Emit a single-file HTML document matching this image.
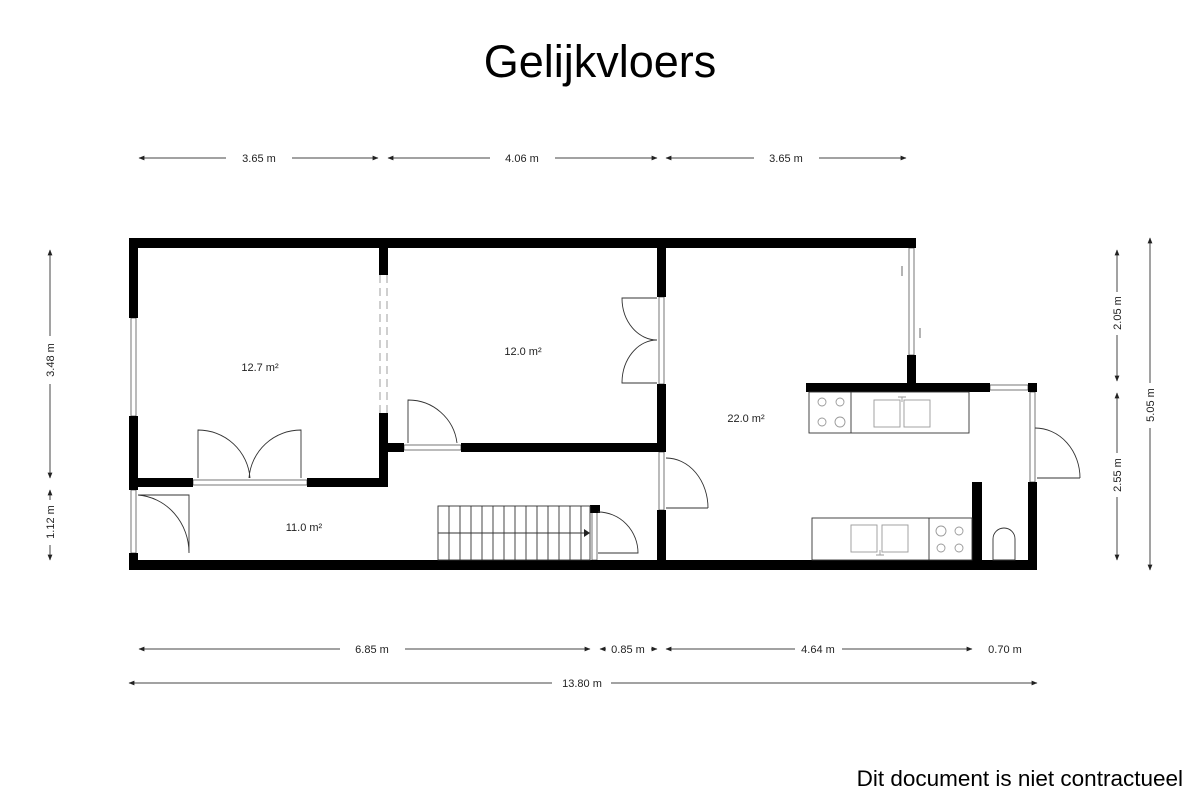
<!DOCTYPE html>
<html><head><meta charset="utf-8"><style>
html,body{margin:0;padding:0;background:#fff;}
svg{display:block;}
text{font-family:"Liberation Sans",Arial,sans-serif;fill:#222;}
</style></head><body>
<svg width="1200" height="801" viewBox="0 0 1200 801" xmlns="http://www.w3.org/2000/svg">
<defs>
<marker id="a" viewBox="0 0 10 10" refX="9" refY="5" markerWidth="6" markerHeight="6" orient="auto-start-reverse"><path d="M0,1 L10,5 L0,9 z" fill="#222"/></marker>
</defs>
<rect width="1200" height="801" fill="#fff"/>
<text x="600" y="77" font-size="45" text-anchor="middle" style="fill:#000">Gelijkvloers</text>
<text x="1183" y="786" font-size="22.5" text-anchor="end" style="fill:#000">Dit document is niet contractueel</text>

<g stroke="#444" stroke-width="1" fill="none">
<line x1="139" y1="158" x2="226" y2="158" marker-start="url(#a)"/><line x1="292" y1="158" x2="378" y2="158" marker-end="url(#a)"/>
<line x1="388" y1="158" x2="490" y2="158" marker-start="url(#a)"/><line x1="555" y1="158" x2="657" y2="158" marker-end="url(#a)"/>
<line x1="666" y1="158" x2="754" y2="158" marker-start="url(#a)"/><line x1="819" y1="158" x2="906" y2="158" marker-end="url(#a)"/>

<line x1="139" y1="649" x2="340" y2="649" marker-start="url(#a)"/><line x1="405" y1="649" x2="590" y2="649" marker-end="url(#a)"/>
<line x1="600" y1="649" x2="606" y2="649" marker-start="url(#a)"/><line x1="651" y1="649" x2="657" y2="649" marker-end="url(#a)"/>
<line x1="666" y1="649" x2="795" y2="649" marker-start="url(#a)"/><line x1="842" y1="649" x2="972" y2="649" marker-end="url(#a)"/>
<line x1="129" y1="683" x2="552" y2="683" marker-start="url(#a)"/><line x1="611" y1="683" x2="1037" y2="683" marker-end="url(#a)"/>

<line x1="50" y1="250" x2="50" y2="336" marker-start="url(#a)"/><line x1="50" y1="384" x2="50" y2="478" marker-end="url(#a)"/>
<line x1="50" y1="490" x2="50" y2="500" marker-start="url(#a)"/><line x1="50" y1="545" x2="50" y2="560" marker-end="url(#a)"/>
<line x1="1117" y1="250" x2="1117" y2="292" marker-start="url(#a)"/><line x1="1117" y1="335" x2="1117" y2="381" marker-end="url(#a)"/>
<line x1="1117" y1="393" x2="1117" y2="453" marker-start="url(#a)"/><line x1="1117" y1="497" x2="1117" y2="560" marker-end="url(#a)"/>
<line x1="1150" y1="238" x2="1150" y2="383" marker-start="url(#a)"/><line x1="1150" y1="428" x2="1150" y2="570" marker-end="url(#a)"/>
</g>
<g font-size="11" text-anchor="middle">
<text x="259" y="162">3.65 m</text><text x="522" y="162">4.06 m</text><text x="786" y="162">3.65 m</text>
<text x="372" y="653">6.85 m</text><text x="628" y="653">0.85 m</text><text x="818" y="653">4.64 m</text><text x="1005" y="653">0.70 m</text>
<text x="582" y="687">13.80 m</text>
<text transform="translate(54,360) rotate(-90)">3.48 m</text>
<text transform="translate(54,522) rotate(-90)">1.12 m</text>
<text transform="translate(1121,313) rotate(-90)">2.05 m</text>
<text transform="translate(1121,475) rotate(-90)">2.55 m</text>
<text transform="translate(1154,405) rotate(-90)">5.05 m</text>
</g>

<g font-size="11" text-anchor="middle">
<text x="260" y="371">12.7 m²</text>
<text x="523" y="355">12.0 m²</text>
<text x="746" y="422">22.0 m²</text>
<text x="304" y="531">11.0 m²</text>
</g>

<g fill="#fff" stroke="#555" stroke-width="0.8">
<rect x="131" y="318" width="5" height="98"/>
<rect x="131" y="490" width="5" height="63"/>
<rect x="193" y="480" width="114" height="5"/>
<rect x="404" y="445" width="57" height="5"/>
<rect x="659" y="297" width="5" height="87"/>
<rect x="659" y="452" width="5" height="58"/>
<rect x="592" y="512" width="5" height="48"/>
<rect x="909" y="248" width="5" height="107"/>
<rect x="990" y="385" width="38" height="5"/>
<rect x="1030" y="392" width="5" height="90"/>
</g>
<g stroke="#888" stroke-width="0.8" stroke-dasharray="8,5" fill="none">
<line x1="380" y1="275" x2="380" y2="413"/><line x1="387" y1="275" x2="387" y2="413"/>
</g>

<g fill="#000">
<rect x="129" y="238" width="787" height="10"/>
<rect x="129" y="560" width="908" height="10"/>
<rect x="129" y="238" width="9" height="80"/>
<rect x="129" y="416" width="9" height="74"/>
<rect x="129" y="553" width="9" height="17"/>
<rect x="129" y="478" width="64" height="9"/>
<rect x="307" y="478" width="81" height="9"/>
<rect x="379" y="238" width="9" height="37"/>
<rect x="379" y="413" width="9" height="74"/>
<rect x="379" y="443" width="25" height="9"/>
<rect x="461" y="443" width="205" height="9"/>
<rect x="657" y="238" width="9" height="59"/>
<rect x="657" y="384" width="9" height="68"/>
<rect x="657" y="510" width="9" height="60"/>
<rect x="907" y="238" width="9" height="10"/>
<rect x="907" y="355" width="9" height="37"/>
<rect x="806" y="383" width="184" height="9"/>
<rect x="1028" y="383" width="9" height="9"/>
<rect x="1028" y="482" width="9" height="88"/>
<rect x="972" y="482" width="10" height="88"/>
<rect x="590" y="505" width="10" height="8"/>
</g>

<g stroke="#333" stroke-width="0.9" fill="none">
<path d="M198,478 V430 A52,52 0 0 1 250,478"/>
<path d="M301,478 V430 A52,52 0 0 0 249,478"/>
<path d="M408,443 V400 A49,49 0 0 1 457,443"/>
<path d="M138,495 H189 V553 M138,495 A55,58 0 0 1 189,553"/>
<path d="M657,298 H622 A35,42 0 0 0 657,340"/>
<path d="M657,383 H622 A35,43 0 0 1 657,340"/>
<path d="M666,508 H708 M666,458 A42,50 0 0 1 708,508"/>
<path d="M598,512 A40,41 0 0 1 638,553 H598"/>
<path d="M1037,478 H1080 M1035,428 A45,50 0 0 1 1080,478"/>
<rect x="438" y="506" width="152" height="54"/>
<path d="M449,506V560M460,506V560M471,506V560M482,506V560M493,506V560M504,506V560M515,506V560M526,506V560M537,506V560M548,506V560M559,506V560M570,506V560M581,506V560"/>
<line x1="438" y1="533" x2="584" y2="533"/>
<rect x="809" y="392" width="160" height="41"/>
<line x1="851" y1="392" x2="851" y2="433"/>
<rect x="874" y="400" width="26" height="27" stroke="#999"/>
<rect x="904" y="400" width="26" height="27" stroke="#999"/>
<rect x="812" y="518" width="160" height="42"/>
<line x1="929" y1="518" x2="929" y2="560"/>
<rect x="851" y="525" width="26" height="27" stroke="#999"/>
<rect x="882" y="525" width="26" height="27" stroke="#999"/>
<path d="M993,560 V539 A11,11 0 0 1 1015,539 V560 Z"/>
</g>
<g stroke="#999" stroke-width="0.9" fill="none">
<circle cx="822" cy="402" r="4"/><circle cx="840" cy="402" r="4"/><circle cx="822" cy="422" r="4"/><circle cx="840" cy="422" r="5"/>
<circle cx="941" cy="531" r="5"/><circle cx="959" cy="531" r="4"/><circle cx="941" cy="548" r="4"/><circle cx="959" cy="548" r="4"/>
<path d="M898,397 H906 M902,397 V402"/>
<path d="M876,555 H884 M880,555 V550"/>
</g>
<polygon points="584,529 590,533 584,537" fill="#222"/>
<g stroke="#444" stroke-width="0.8">
<line x1="902" y1="266" x2="902" y2="276"/><line x1="920" y1="328" x2="920" y2="338"/>
</g>
</svg>
</body></html>
